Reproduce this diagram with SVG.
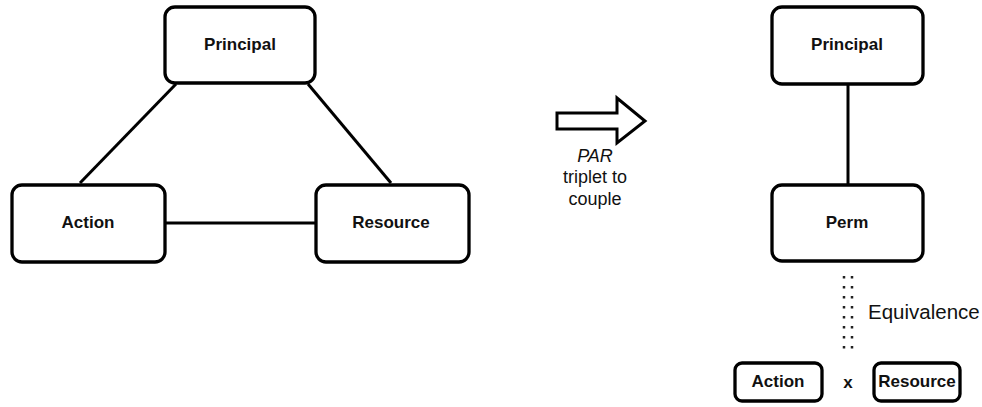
<svg xmlns="http://www.w3.org/2000/svg" width="982" height="407" viewBox="0 0 982 407">
  <style>
    .box { fill: #ffffff; stroke: #000000; stroke-width: 3.3; }
    .lbl { font-family: "Liberation Sans", Arial, sans-serif; font-weight: bold; font-size: 17px; fill: #111111; text-anchor: middle; }
    .note { font-family: "Liberation Sans", Arial, sans-serif; font-size: 18px; fill: #111111; }
    .note.big { font-size: 20.5px; }
    .edge { stroke: #000000; stroke-width: 3; fill: none; }
    .dots { stroke: #222222; stroke-width: 2.5; stroke-dasharray: 2.5 7.5; fill: none; }
  </style>
  <rect width="982" height="407" fill="#ffffff"/>

  <!-- connectors -->
  <g id="connectors">
    <line class="edge" x1="176" y1="84" x2="80" y2="183"/>
    <line class="edge" x1="308" y1="84" x2="391" y2="183"/>
    <line class="edge" x1="166" y1="223" x2="315" y2="223"/>
    <line class="edge" x1="848" y1="85" x2="848" y2="184"/>
    <line class="dots" x1="844" y1="276" x2="844" y2="352"/>
    <line class="dots" x1="852" y1="276" x2="852" y2="352"/>
  </g>

  <!-- triangle: principal / action / resource -->
  <g id="principal-left">
    <rect class="box" x="165" y="7" width="150" height="76" rx="10"/>
    <text class="lbl" x="240" y="50">Principal</text>
  </g>
  <g id="action-left">
    <rect class="box" x="12" y="185" width="153" height="77" rx="10"/>
    <text class="lbl" x="88" y="228">Action</text>
  </g>
  <g id="resource-left">
    <rect class="box" x="316" y="185" width="153" height="77" rx="10"/>
    <text class="lbl" x="391" y="228">Resource</text>
  </g>

  <!-- transformation arrow -->
  <g id="transform">
    <polygon points="557,113 617,113 617,98 645,121 617,143 617,129 557,129" fill="#ffffff" stroke="#000000" stroke-width="3" stroke-linejoin="miter"/>
    <text class="note" x="595" y="162" text-anchor="middle" font-style="italic">PAR</text>
    <text class="note" x="595" y="183" text-anchor="middle">triplet to</text>
    <text class="note" x="595" y="205" text-anchor="middle">couple</text>
  </g>

  <!-- couple: principal / perm -->
  <g id="principal-right">
    <rect class="box" x="772" y="7" width="151" height="77" rx="10"/>
    <text class="lbl" x="847" y="50">Principal</text>
  </g>
  <g id="perm">
    <rect class="box" x="772" y="185" width="151" height="76" rx="10"/>
    <text class="lbl" x="847" y="228">Perm</text>
  </g>
  <g id="equivalence">
    <text class="note big" x="868" y="319">Equivalence</text>
  </g>
  <g id="action-right">
    <rect class="box" x="735" y="363" width="87" height="38" rx="7"/>
    <text class="lbl" x="778" y="387">Action</text>
  </g>
  <g id="times">
    <text class="lbl" x="848" y="388">x</text>
  </g>
  <g id="resource-right">
    <rect class="box" x="874" y="363" width="86" height="38" rx="7"/>
    <text class="lbl" x="917" y="387">Resource</text>
  </g>
</svg>
